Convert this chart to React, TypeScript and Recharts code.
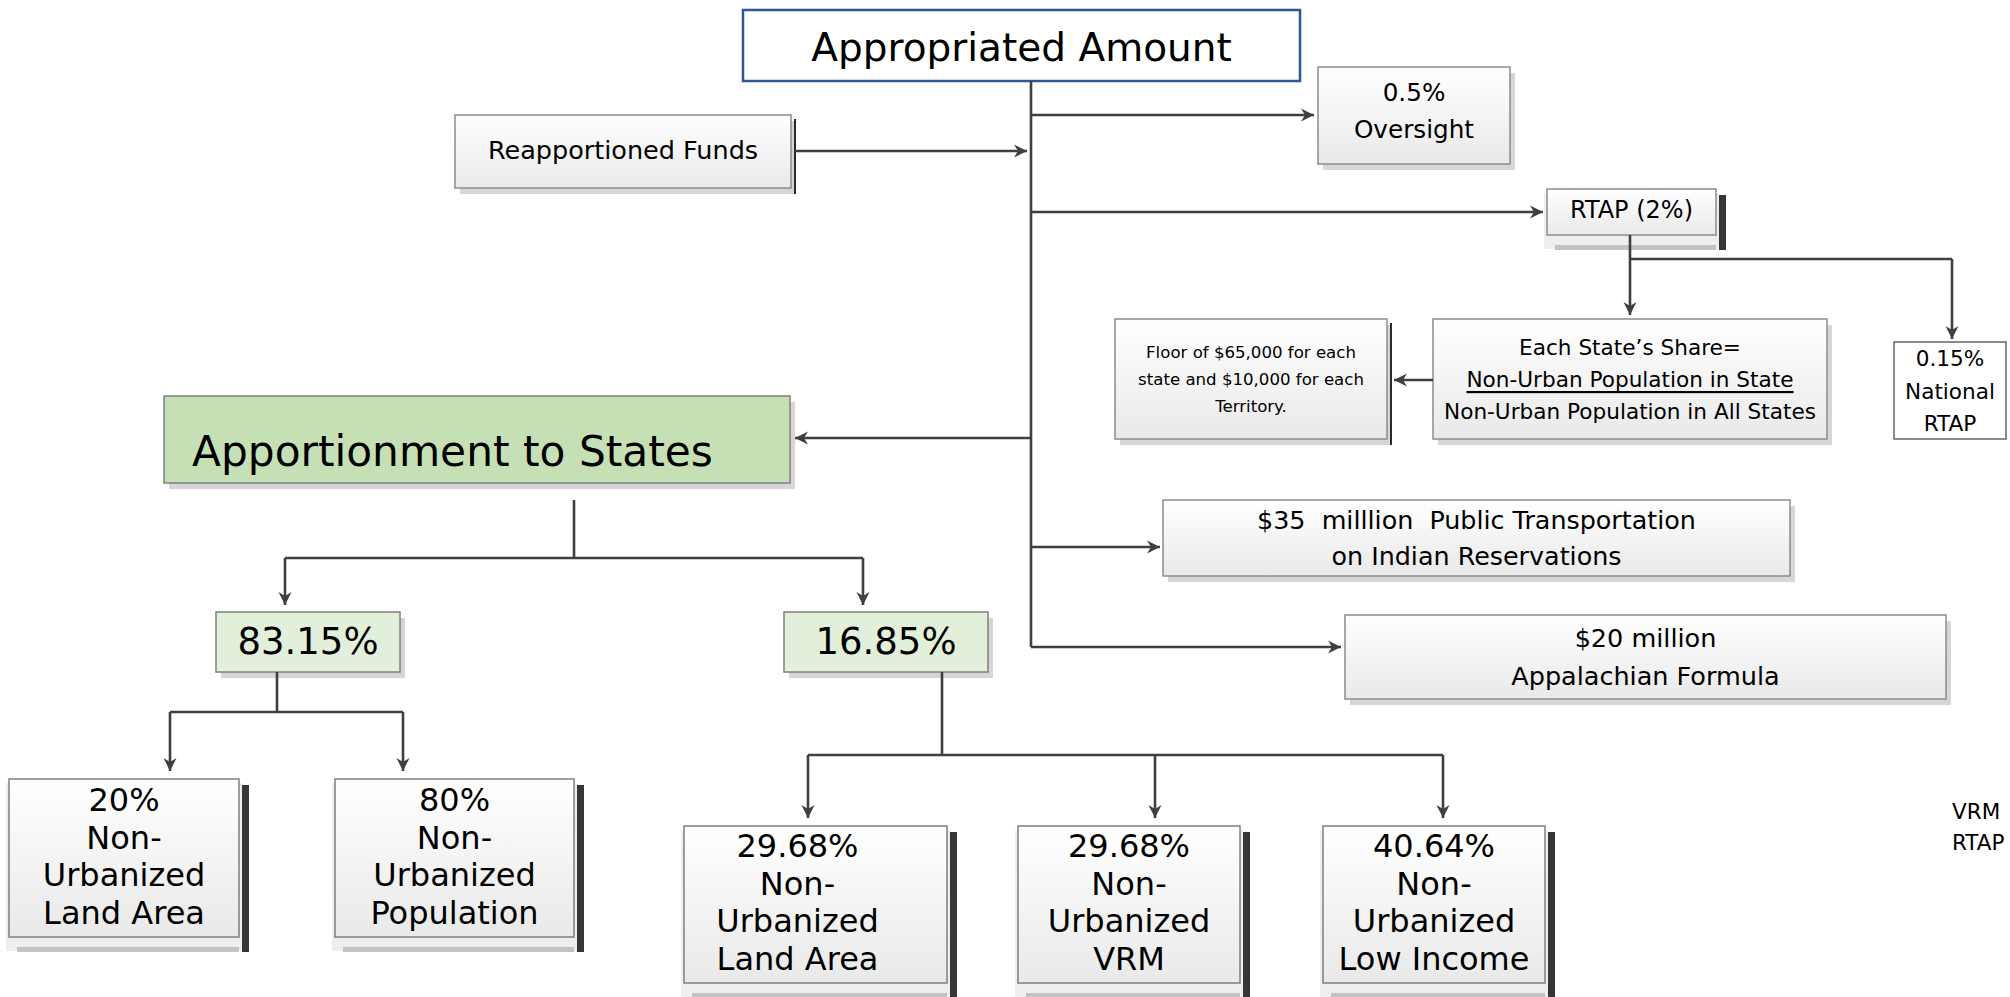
import React from "react";
import {
  ComposedChart,
  XAxis,
  YAxis,
  ReferenceArea,
  ReferenceLine,
  Scatter,
} from "recharts";

// slide units: 0..2010 across, 0..997 down (y axis reversed)
const SLIDE_W = 2010;
const SLIDE_H = 997;
const FONT = "'DejaVu Sans', Verdana, sans-serif";
const INK = "#3f3f3f";

type BoxNode = {
  id: string;
  x1: number;
  x2: number;
  y1: number;
  y2: number;
  lines: string[];
};

// top of the tree: the appropriation and the take-downs
const topNodes: BoxNode[] = [
  { id: "appropriated", x1: 743, x2: 1300, y1: 10, y2: 81, lines: ["Appropriated Amount"] },
  { id: "reapportioned", x1: 455, x2: 791, y1: 115, y2: 188, lines: ["Reapportioned Funds"] },
  { id: "oversight", x1: 1318, x2: 1510, y1: 67, y2: 164, lines: ["0.5%", "Oversight"] },
  { id: "rtap", x1: 1547, x2: 1716, y1: 189, y2: 235, lines: ["RTAP (2%)"] },
  { id: "tribal", x1: 1163, x2: 1790, y1: 500, y2: 576, lines: ["$35  milllion  Public Transportation", "on Indian Reservations"] },
  { id: "appalachian", x1: 1345, x2: 1946, y1: 615, y2: 699, lines: ["$20 million", "Appalachian Formula"] },
];

// RTAP split
const rtapNodes: BoxNode[] = [
  { id: "share", x1: 1433, x2: 1827, y1: 319, y2: 439, lines: ["Each State\u2019s Share=", "Non-Urban Population in State", "Non-Urban Population in All States"] },
  { id: "floor", x1: 1115, x2: 1387, y1: 319, y2: 439, lines: ["Floor of $65,000 for each", "state and $10,000 for each", "Territory."] },
  { id: "national", x1: 1894, x2: 2006, y1: 342, y2: 439, lines: ["0.15%", "National", "RTAP"] },
];

// apportionment to the states
const stateNodes: BoxNode[] = [
  { id: "apportionment", x1: 164, x2: 790, y1: 396, y2: 483, lines: ["Apportionment to States"] },
  { id: "p8315", x1: 216, x2: 400, y1: 612, y2: 672, lines: ["83.15%"] },
  { id: "p1685", x1: 784, x2: 988, y1: 612, y2: 672, lines: ["16.85%"] },
];

const factorNodes: BoxNode[] = [
  { id: "land20", x1: 9, x2: 239, y1: 779, y2: 937, lines: ["20%", "Non-", "Urbanized", "Land Area"] },
  { id: "pop80", x1: 335, x2: 574, y1: 779, y2: 937, lines: ["80%", "Non-", "Urbanized", "Population"] },
  { id: "land2968", x1: 684, x2: 947, y1: 826, y2: 983, lines: ["29.68%", "Non-", "Urbanized", "Land Area"] },
  { id: "vrm2968", x1: 1018, x2: 1240, y1: 826, y2: 983, lines: ["29.68%", "Non-", "Urbanized", "VRM"] },
  { id: "income4064", x1: 1323, x2: 1545, y1: 826, y2: 983, lines: ["40.64%", "Non-", "Urbanized", "Low Income"] },
];

const looseNotes: BoxNode[] = [
  { id: "noteVrm", x1: 1950, x2: 2010, y1: 797, y2: 825, lines: ["VRM"] },
  { id: "noteRtap", x1: 1950, x2: 2010, y1: 828, y2: 856, lines: ["RTAP"] },
];

// connectors, as polylines; arrow = arrowhead at the last point
type Link = { pts: [number, number][]; arrow: boolean };

const trunkLinks: Link[] = [
  { pts: [[1031, 81], [1031, 647]], arrow: false },
  { pts: [[1031, 115], [1314, 115]], arrow: true },
  { pts: [[795, 151], [1027, 151]], arrow: true },
  { pts: [[1031, 212], [1543, 212]], arrow: true },
  { pts: [[1031, 438], [795, 438]], arrow: true },
  { pts: [[1031, 547], [1160, 547]], arrow: true },
  { pts: [[1031, 647], [1341, 647]], arrow: true },
];

const rtapLinks: Link[] = [
  { pts: [[1630, 235], [1630, 315]], arrow: true },
  { pts: [[1630, 259], [1952, 259], [1952, 339]], arrow: true },
  { pts: [[1433, 380], [1394, 380]], arrow: true },
];

const stateLinks: Link[] = [
  { pts: [[574, 500], [574, 558]], arrow: false },
  { pts: [[574, 558], [285, 558], [285, 605]], arrow: true },
  { pts: [[574, 558], [863, 558], [863, 605]], arrow: true },
  { pts: [[277, 672], [277, 712]], arrow: false },
  { pts: [[277, 712], [170, 712], [170, 771]], arrow: true },
  { pts: [[277, 712], [403, 712], [403, 771]], arrow: true },
  { pts: [[942, 672], [942, 755]], arrow: false },
  { pts: [[942, 755], [808, 755], [808, 818]], arrow: true },
  { pts: [[1155, 755], [1155, 818]], arrow: true },
  { pts: [[942, 755], [1443, 755], [1443, 818]], arrow: true },
];

type Look = {
  fill: "grad" | string;
  stroke: string;
  strokeWidth: number;
  font: number;
  lh: number;
  shadow: "none" | "soft" | "thin" | "dark";
  anchor?: "start" | "middle";
  dx?: number;
  dy?: number;
  underline?: number;
};

const plainBox: Look = { fill: "grad", stroke: "#8c8c8c", strokeWidth: 1.5, font: 25, lh: 36, shadow: "soft" };
const factorBox: Look = { fill: "grad", stroke: "#7f7f7f", strokeWidth: 1.5, font: 32, lh: 37.5, shadow: "dark" };

const looks: Record<string, Look> = {
  appropriated: { fill: "#ffffff", stroke: "#2f5597", strokeWidth: 2.5, font: 39, lh: 44, shadow: "none", dy: 1 },
  reapportioned: { ...plainBox, shadow: "thin", font: 25.5, dy: -2 },
  oversight: { ...plainBox, font: 24.7, lh: 37, dy: -5 },
  rtap: { ...plainBox, shadow: "dark", font: 24, dy: -2 },
  tribal: { ...plainBox, font: 25.4, lh: 36 },
  appalachian: { ...plainBox, font: 25.5, lh: 38 },
  share: { ...plainBox, font: 21.6, lh: 32, underline: 1 },
  floor: { ...plainBox, shadow: "thin", font: 16.6, lh: 27 },
  national: { fill: "#ffffff", stroke: "#404040", strokeWidth: 1.2, font: 21.6, lh: 32.5, shadow: "none" },
  apportionment: { fill: "#c5e0b4", stroke: "#7f7f7f", strokeWidth: 1.5, font: 42.3, lh: 49, shadow: "soft", anchor: "start", dx: 28, dy: 11 },
  p8315: { fill: "#e2efda", stroke: "#7f7f7f", strokeWidth: 1.5, font: 37, lh: 42, shadow: "soft", dy: -1 },
  p1685: { fill: "#e2efda", stroke: "#7f7f7f", strokeWidth: 1.5, font: 37, lh: 42, shadow: "soft", dy: -1 },
  land20: { ...factorBox, dy: -1.5 },
  pop80: { ...factorBox, dy: -1.5 },
  land2968: { ...factorBox, dy: -2, dx: -18 },
  vrm2968: { ...factorBox, dy: -2 },
  income4064: { ...factorBox, dy: -2 },
  noteVrm: { fill: "none", stroke: "none", strokeWidth: 0, font: 21.5, lh: 24, shadow: "none", anchor: "start", dx: 2 },
  noteRtap: { fill: "none", stroke: "none", strokeWidth: 0, font: 21.5, lh: 24, shadow: "none", anchor: "start", dx: 2 },
};

const allNodes = [...topNodes, ...rtapNodes, ...stateNodes, ...factorNodes, ...looseNotes];
const allLinks = [...trunkLinks, ...rtapLinks, ...stateLinks];

// arrow tips come from the last leg of every arrowed link
const arrowTips = allLinks
  .filter((l) => l.arrow)
  .map((l) => {
    const [px, py] = l.pts[l.pts.length - 2];
    const [x, y] = l.pts[l.pts.length - 1];
    return { x, y, ux: Math.sign(x - px), uy: Math.sign(y - py) };
  });

const linkSegments = allLinks.flatMap((l) =>
  l.pts.slice(1).map((p, i) => [l.pts[i], p] as [[number, number], [number, number]])
);

const NodeShape = (props: any) => {
  const { x, y, width, height, node } = props;
  const look: Look = looks[node.id];
  const gid = `g-${node.id}`;
  const anchor = look.anchor ?? "middle";
  const tx = (anchor === "start" ? x : x + width / 2) + (look.dx ?? 0);
  const cy = y + height / 2 + (look.dy ?? 0);
  const n = node.lines.length;
  const firstY = cy - ((n - 1) / 2) * look.lh;
  return (
    <g>
      <defs>
        <linearGradient id={gid} x1="0" y1="0" x2="0" y2="1">
          <stop offset="0%" stopColor="#ffffff" />
          <stop offset="100%" stopColor="#e9e9e9" />
        </linearGradient>
      </defs>
      {look.shadow !== "none" && (
        <rect x={x + 5} y={y + 6} width={width} height={height} fill="#d6d6d6" />
      )}
      {look.shadow === "dark" && (
        <>
          <rect x={x - 3} y={y + 4} width={width + 6} height={height + 10} fill="#eeeeee" />
          <rect x={x + 8} y={y + height + 10} width={width - 8} height={5} fill="#c2c2c2" />
          <rect x={x + width + 3} y={y + 6} width={7} height={height + 9} fill="#363636" />
        </>
      )}
      {look.shadow === "thin" && (
        <rect x={x + width + 3} y={y + 4} width={2} height={height + 2} fill="#2a2a2a" />
      )}
      {look.fill !== "none" && (
        <rect
          x={x}
          y={y}
          width={width}
          height={height}
          fill={look.fill === "grad" ? `url(#${gid})` : look.fill}
          stroke={look.stroke}
          strokeWidth={look.strokeWidth}
        />
      )}
      <text
        x={tx}
        y={firstY}
        textAnchor={anchor}
        dominantBaseline="central"
        fontFamily={FONT}
        fontSize={look.font}
        fill="#000000"
        style={{ whiteSpace: "pre" }}
      >
        {node.lines.map((s: string, i: number) => (
          <tspan
            key={i}
            x={tx}
            y={firstY + i * look.lh}
            textDecoration={look.underline === i ? "underline" : undefined}
          >
            {s}
          </tspan>
        ))}
      </text>
    </g>
  );
};

const ArrowHead = (props: any) => {
  const { cx, cy, payload } = props;
  const ang = (Math.atan2(payload.uy, payload.ux) * 180) / Math.PI;
  return (
    <path
      d="M0,0 L-13,-6.5 L-9,0 L-13,6.5 Z"
      transform={`translate(${cx},${cy}) rotate(${ang})`}
      fill={INK}
    />
  );
};

const LinkLine = (props: any) => (
  <line
    x1={props.x1}
    y1={props.y1}
    x2={props.x2}
    y2={props.y2}
    stroke={INK}
    strokeWidth={2.6}
  />
);

export default function App() {
  return (
    <div style={{ width: SLIDE_W, height: SLIDE_H, background: "#ffffff" }}>
      <style>{"body{margin:0;}"}</style>
      <ComposedChart
        width={SLIDE_W}
        height={SLIDE_H}
        margin={{ top: 0, right: 0, bottom: 0, left: 0 }}
      >
        <XAxis type="number" dataKey="x" domain={[0, SLIDE_W]} allowDataOverflow hide />
        <YAxis type="number" dataKey="y" domain={[0, SLIDE_H]} allowDataOverflow reversed hide />
        {linkSegments.map((seg, i) => (
          <ReferenceLine
            key={`l${i}`}
            segment={[
              { x: seg[0][0], y: seg[0][1] },
              { x: seg[1][0], y: seg[1][1] },
            ]}
            ifOverflow="visible"
            shape={LinkLine}
          />
        ))}
        {allNodes.map((node) => (
          <ReferenceArea
            key={node.id}
            x1={node.x1}
            x2={node.x2}
            y1={node.y1}
            y2={node.y2}
            ifOverflow="visible"
            shape={(p: any) => <NodeShape {...p} node={node} />}
          />
        ))}
        <Scatter data={arrowTips} isAnimationActive={false} shape={ArrowHead} />
      </ComposedChart>
    </div>
  );
}
